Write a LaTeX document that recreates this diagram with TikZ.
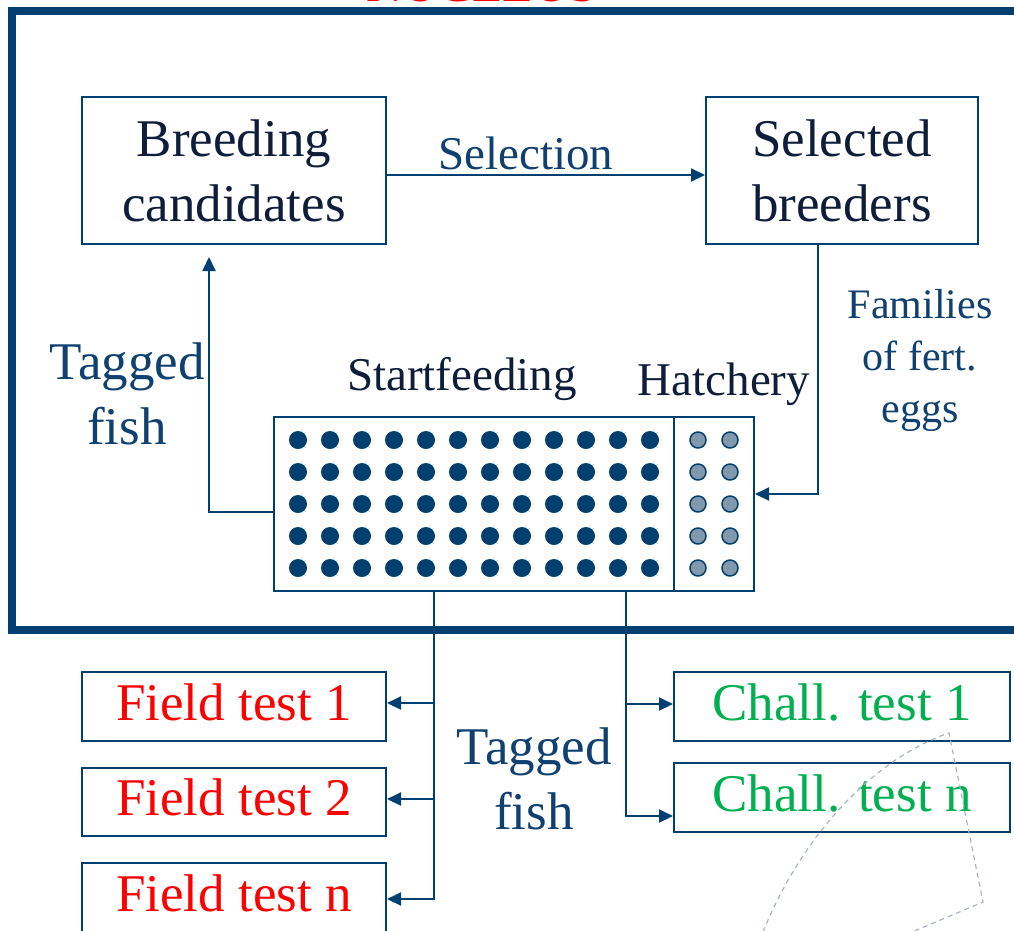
\documentclass[tikz,border=0pt]{standalone}
\usepackage{fontspec}
\setmainfont{Liberation Serif}
\usetikzlibrary{arrows.meta}
\definecolor{lineblue}{HTML}{003F72}
\definecolor{labelblue}{HTML}{0F4070}
\definecolor{boxtext}{HTML}{0E1E3A}
\definecolor{dotgray}{HTML}{7F9AAE}
\definecolor{fieldred}{HTML}{FF0000}
\definecolor{challgreen}{HTML}{00B050}
\definecolor{dashgray}{HTML}{A8B6C4}
\begin{document}
\begin{tikzpicture}[x=1pt,y=-1pt,
  box/.style={draw=lineblue, line width=2pt, inner sep=0pt, align=center,
    text=boxtext, font=\fontsize{53}{65}\selectfont},
  testbox/.style={box, text height=36pt, text depth=9pt},
  bigtxt/.style={font=\fontsize{53}{65}\selectfont, align=center},
  midtxt/.style={font=\fontsize{47}{56}\selectfont, align=center},
  conn/.style={draw=lineblue, line width=2pt},
  arr/.style={conn, -{Triangle[length=14pt,width=13pt]}}]
\useasboundingbox (0,0) rectangle (1014,930);
% frame and title
\draw[lineblue, line width=8pt] (12,11) rectangle (1060,630);
\node[anchor=base, text=fieldred, font=\fontsize{50}{60}\selectfont] (title) at (482,1.5) {NUCLEUS};
% top boxes
\node[box, minimum width=304pt, minimum height=147pt] (bc) at (234,170.5) {Breeding\\candidates};
\node[box, minimum width=272pt, minimum height=147pt] (sb) at (842,170.5) {Selected\\breeders};
\draw[arr] ([yshift=-4.5pt]bc.east) -- ([yshift=-4.5pt]sb.west);
\node[midtxt, anchor=base, text=labelblue] (sel) at (526,169) {Selection};
% grid box
\node[draw=lineblue, line width=2pt, minimum width=480pt, minimum height=174pt, inner sep=0pt] (grid) at (514,504) {};
\draw[conn] (674,417) coordinate (dtop) -- (674,591) coordinate (dbot);
\foreach \i in {0,...,11}{
  \foreach \j in {0,...,4}{
    \fill[lineblue] (298+32*\i, 440+32*\j) circle (9pt);
  }
}
\foreach \i in {0,1}{
  \foreach \j in {0,...,4}{
    \filldraw[fill=dotgray, draw=lineblue, line width=1.5pt] (698+32*\i, 440+32*\j) circle (8pt);
  }
}
\node[midtxt, anchor=base, text=boxtext] (sf) at (462,390) {Startfeeding};
\node[midtxt, anchor=base, text=boxtext] (hat) at (724,395) {Hatchery};
% families arrow
\draw[arr] ([xshift=-24pt]sb.south) |- ([yshift=10pt]grid.east);
\node[font=\fontsize{42}{52}\selectfont, align=center, text=labelblue] (fam) at (920,360.5) {Families\\of fert.\\eggs};
% tagged fish up
\coordinate (tfup) at (209,257);
\draw[arr] ([yshift=-8pt]grid.west) -| (tfup);
\node[bigtxt, text=labelblue] (tf1) at (127,394) {Tagged\\fish};
% field tests
\node[testbox, text=fieldred, minimum width=304pt, minimum height=69pt] (f1) at (234,706.5) {Field test 1};
\node[testbox, text=fieldred, minimum width=304pt, minimum height=68pt] (f2) at (234,802) {Field test 2};
\node[testbox, text=fieldred, minimum width=304pt, minimum height=69pt] (f3) at (234,897.5) {Field test n};
\coordinate (lt) at ([xshift=-80pt]grid.south);
\draw[arr] (lt) |- ([yshift=-1.5pt]f3.east);
\draw[arr] ([yshift=3.5pt]f1.east -| lt) -- ([yshift=3.5pt]f1.east);
\draw[arr] ([yshift=3pt]f2.east -| lt) -- ([yshift=3pt]f2.east);
% challenge tests
\node[testbox, text=challgreen, minimum width=336pt, minimum height=69pt] (c1) at (842,706.5) {Chall. test 1};
\node[testbox, text=challgreen, minimum width=336pt, minimum height=69pt] (cn) at (842,797.5) {Chall. test n};
\coordinate (rt) at ([xshift=112pt]grid.south);
\draw[arr] (rt) |- ([yshift=-18.5pt]cn.west);
\draw[arr] ([yshift=2.5pt]c1.west -| rt) -- ([yshift=2.5pt]c1.west);
\node[bigtxt, text=labelblue] (tf2) at (534,779) {Tagged\\fish};
% dashed sector
\draw[dashgray, line width=1.2pt, dash pattern=on 5pt off 4pt]
  (763,932) .. controls (800,840) and (870,760) .. (949,733) -- (983,902) -- (912,932);
\end{tikzpicture}
\end{document}
